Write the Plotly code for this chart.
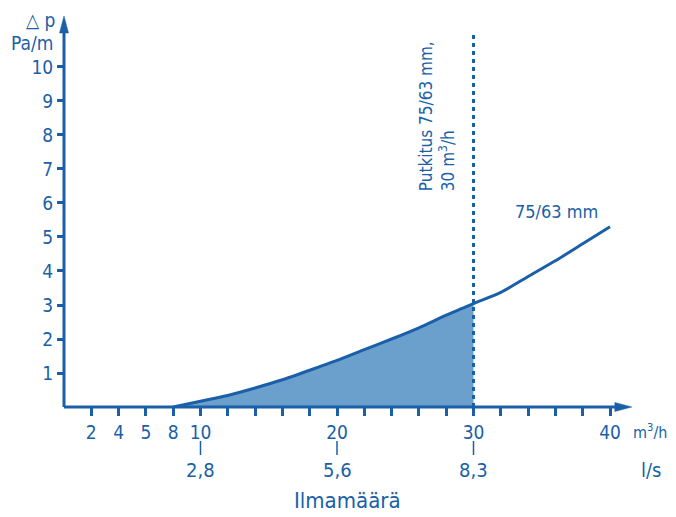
import plotly.graph_objects as go

# --- data ---
flow_m3h = [8, 10, 12, 14, 16, 18, 20, 22, 24, 26, 28, 30, 32, 34, 36, 38, 40]
dp_pa_m = [0.0, 0.17, 0.34, 0.56, 0.80, 1.08, 1.37, 1.69, 2.00, 2.33, 2.70, 3.04, 3.37, 3.84, 4.30, 4.80, 5.30]
design_flow = 30
x_major_vals = [2, 4, 6, 8, 10, 20, 30, 40]
x_major_text = ["2", "4", "5", "8", "10", "20", "30", "40"]
x_minor_vals = [12, 14, 16, 18, 22, 24, 26, 28, 32, 34, 36, 38]
ls_positions = [10, 20, 30]
ls_labels = ["2,8", "5,6", "8,3"]
y_tick_vals = [1, 2, 3, 4, 5, 6, 7, 8, 9, 10]

BLUE = "#1a5fa8"
FILL = "#6b9fcc"
FONT = "DejaVu Sans Condensed, DejaVu Sans, sans-serif"

X_MAX = 43.956
Y_MAX = 11.676
X_TIP = 41.6 / X_MAX   # paper fraction of x-axis arrow tip
Y_TIP = 11.5 / Y_MAX   # paper fraction of y-axis arrow tip

fill_x = [x for x in flow_m3h if x <= design_flow]
fill_y = [y for x, y in zip(flow_m3h, dp_pa_m) if x <= design_flow]

fig = go.Figure()
fig.add_trace(go.Scatter(x=fill_x, y=fill_y, mode="lines", fill="tozeroy",
                         fillcolor=FILL, line=dict(color=FILL, width=0, shape="spline", smoothing=0.6),
                         hoverinfo="skip", showlegend=False))
fig.add_trace(go.Scatter(x=flow_m3h, y=dp_pa_m, mode="lines",
                         line=dict(color=BLUE, width=3, shape="spline", smoothing=0.6),
                         showlegend=False))

# dotted design line
fig.add_shape(type="line", x0=design_flow, x1=design_flow, y0=0, y1=11.0,
              xref="x", yref="y", line=dict(color=BLUE, width=3, dash="4px,4px"))

# axis lines (paper refs so they are not clipped at the plot edge)
fig.add_shape(type="line", xref="paper", yref="paper", x0=0, y0=0, x1=X_TIP - 15 / 600, y1=0,
              line=dict(color=BLUE, width=3))
fig.add_shape(type="line", xref="paper", yref="paper", x0=0, y0=0, x1=0, y1=Y_TIP - 15 / 397,
              line=dict(color=BLUE, width=3))
# arrow heads (pixel sized, anchored at tips)
fig.add_shape(type="path", xref="paper", yref="paper", xsizemode="pixel", ysizemode="pixel",
              xanchor=X_TIP, yanchor=0, path="M 0 0 L -17 4.5 L -17 -4.5 Z",
              fillcolor=BLUE, line=dict(color=BLUE, width=0.5))
fig.add_shape(type="path", xref="paper", yref="paper", xsizemode="pixel", ysizemode="pixel",
              xanchor=0, yanchor=Y_TIP, path="M 0 0 L -4.5 -17 L 4.5 -17 Z",
              fillcolor=BLUE, line=dict(color=BLUE, width=0.5))

# small ticks for l/s row
for xv in ls_positions:
    fig.add_shape(type="line", xref="x", yref="paper", x0=xv, x1=xv,
                  ysizemode="pixel", yanchor=0, y0=-34, y1=-48,
                  line=dict(color=BLUE, width=1.5))

ann = []
for xv, lab in zip(ls_positions, ls_labels):
    ann.append(dict(x=xv, y=0, xref="x", yref="y", yshift=-63, text=lab, showarrow=False,
                    xanchor="center", yanchor="middle", font=dict(size=20, color=BLUE, family=FONT)))
ann.append(dict(x=(669 - 64) / 600, y=0, xref="paper", yref="paper", yshift=-24, text="m<sup>3</sup>/h",
                showarrow=False, xanchor="right", yanchor="middle",
                font=dict(size=16, color=BLUE, family=FONT)))
ann.append(dict(x=(651 - 64) / 600, y=0, xref="paper", yref="paper", yshift=-63, text="l/s",
                showarrow=False, xanchor="center", yanchor="middle",
                font=dict(size=20, color=BLUE, family=FONT)))
ann.append(dict(x=20.8, y=0, xref="x", yref="y", yshift=-93, text="Ilmamäärä", showarrow=False,
                xanchor="center", yanchor="middle", font=dict(size=22, color=BLUE, family=FONT)))
ann.append(dict(x=36.1, y=5.76, xref="x", yref="y", text="75/63 mm", showarrow=False,
                xanchor="center", yanchor="middle", font=dict(size=18, color=BLUE, family=FONT)))
ann.append(dict(x=27.29, y=8.54, xref="x", yref="y", text="Putkitus 75/63 mm,<br>30 m<sup>3</sup>/h",
                showarrow=False, textangle=-90, align="left",
                xanchor="center", yanchor="middle", font=dict(size=17, color=BLUE, family=FONT)))
ann.append(dict(x=(40 - 64) / 600, y=1 - (20 - 10) / 397, xref="paper", yref="paper", text="△ p",
                showarrow=False, xanchor="center", yanchor="middle",
                font=dict(size=19, color=BLUE, family=FONT)))
ann.append(dict(x=(32 - 64) / 600, y=1 - (43 - 10) / 397, xref="paper", yref="paper", text="Pa/m",
                showarrow=False, xanchor="center", yanchor="middle",
                font=dict(size=19, color=BLUE, family=FONT)))

# the page body has an 8px margin: the figure is laid out to compensate
fig.update_layout(
    width=668, height=509, autosize=False,
    margin=dict(l=56, r=12, t=2, b=110),
    paper_bgcolor="white", plot_bgcolor="white",
    annotations=ann,
    xaxis=dict(range=[0, X_MAX], showgrid=False, zeroline=False, showline=False,
               tickmode="array", tickvals=x_major_vals, ticktext=x_major_text,
               ticks="outside", ticklen=8, tickwidth=2.5, tickcolor=BLUE,
               minor=dict(tickmode="array", tickvals=x_minor_vals, ticks="outside",
                          ticklen=8, tickwidth=2.5, tickcolor=BLUE, showgrid=False),
               tickfont=dict(size=19, color=BLUE, family=FONT), fixedrange=True),
    yaxis=dict(range=[0, Y_MAX], showgrid=False, zeroline=False, showline=False,
               tickmode="array", tickvals=y_tick_vals,
               ticks="outside", ticklen=6, tickwidth=2.5, tickcolor=BLUE,
               tickfont=dict(size=19, color=BLUE, family=FONT), fixedrange=True),
)

fig.write_html("out.html")
